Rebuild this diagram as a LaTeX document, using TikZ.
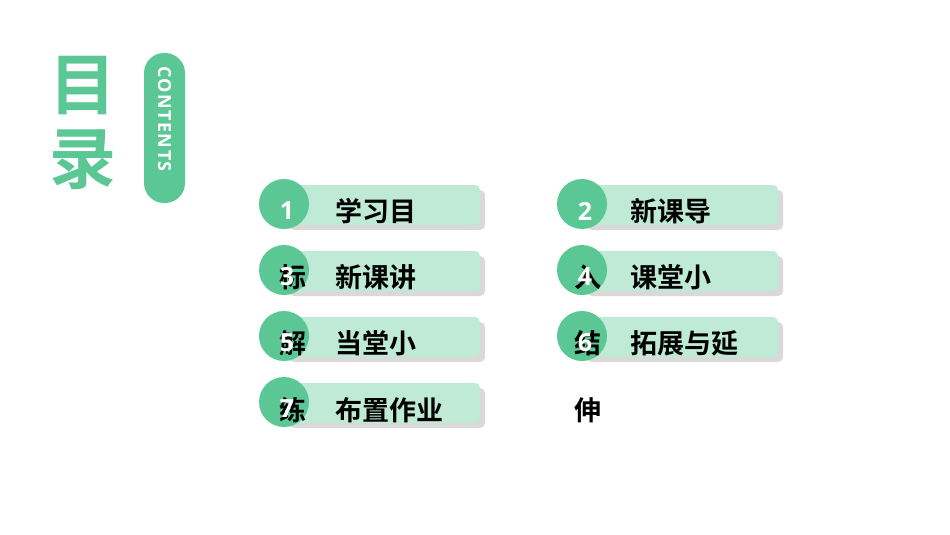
\documentclass[tikz,border=0pt]{standalone}
\usepackage{fontspec}
\setmainfont{Open Sans}
\newfontfamily\cjk{Noto Sans CJK SC}[BoldFont={Noto Sans CJK SC Bold}]
\newfontfamily\spaced{Open Sans}[LetterSpace=8]
\definecolor{mugreen}{HTML}{5BC794}
\definecolor{mulight}{HTML}{BEEAD6}
\definecolor{mushadow}{HTML}{D9D9D9}
\begin{document}
\begin{tikzpicture}[x=1pt,y=-1pt, line join=round, line cap=round,
	itemtext/.style={anchor=west,inner sep=0pt,font=\cjk\bfseries\fontsize{27}{27}\selectfont},
	itemnum/.style={white,inner sep=0pt,font=\bfseries\fontsize{25}{25}\selectfont}]
	\useasboundingbox (0,0) rectangle (950,535);
	\fill[white] (0,0) rectangle (950,535);
	% title
	\node[mugreen,font=\cjk\bfseries\fontsize{67}{67}\selectfont] (mu) at (83,86) {目};
	\node[mugreen,font=\cjk\bfseries\fontsize{67}{67}\selectfont] (lu) at (83,160) {录};
	\fill[mugreen,rounded corners=20pt] (144,53) rectangle (185,203);
	\node[white,rotate=-90,font=\spaced\bfseries\fontsize{18}{18}\selectfont] (contents) at (164.5,119) {CONTENTS};
	% bars
	\foreach \cx/\cy in {284/204,582/204,284/270,582/270,284/336,582/336,284/402}{
		\fill[mushadow,rounded corners=5pt] (\cx+5,\cy-14) rectangle (\cx+201,\cy+26);
		\fill[mulight,rounded corners=5pt] (\cx,\cy-19) rectangle (\cx+196,\cy+21);
		\fill[mugreen] (\cx,\cy) circle (25pt);}
	% texts
	\foreach \i/\x/\y/\txt in {1/335/211/学习目,2/630/211/新课导,3/335/277/新课讲,4/630/277/课堂小,
		5/335/343/当堂小,6/630/343/拓展与延,7/335/410/布置作业}{
		\node[itemtext] (t\i) at (\x,\y) {\txt};}
	\foreach \i/\x/\y/\txt in {1/279/277/标,2/574/277/入,3/279/343/解,4/574/343/结,5/279/410/练,6/574/410/伸}{
		\node[itemtext] (o\i) at (\x,\y) {\txt};}
	% numbers
	\foreach \i/\cx/\cy in {1/284/204,2/582/204,3/284/270,4/582/270,5/284/336,6/582/336,7/284/402}{
		\node[itemnum] (n\i) at (\cx+3,\cy+7) {\i};}
\end{tikzpicture}
\end{document}
